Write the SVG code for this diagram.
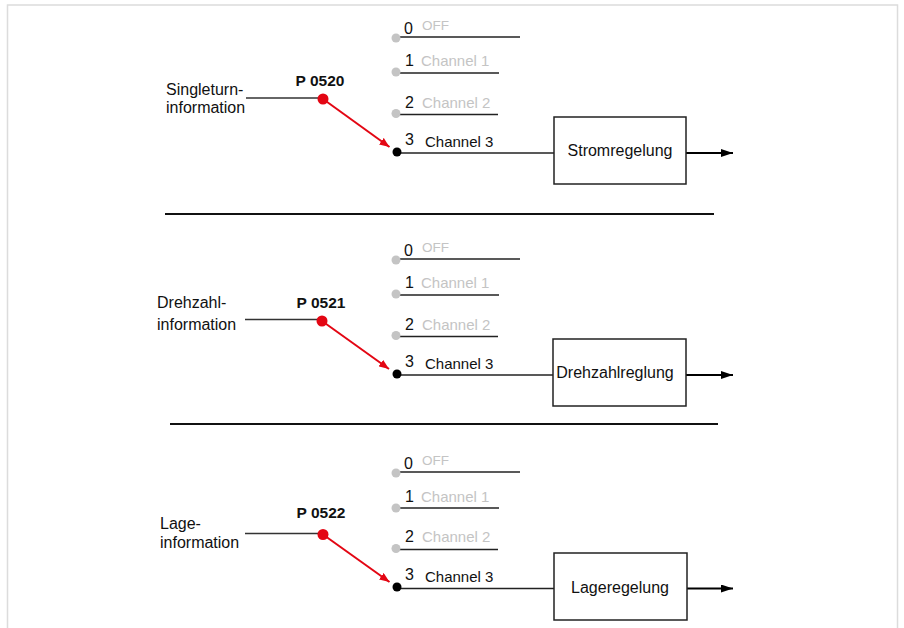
<svg xmlns="http://www.w3.org/2000/svg" width="904" height="628" viewBox="0 0 904 628">
<defs>
<style>
text{font-family:"Liberation Sans",Arial,sans-serif;fill:#111}
.lbl{font-size:16px}
.ch{font-size:15px}
.num{font-size:16px}
.off{font-size:13.5px;fill:#c4c4c4}
.grey{fill:#c4c4c4}
.par{font-size:15.5px;font-weight:bold;text-anchor:middle}
.box{fill:#fff;stroke:#222;stroke-width:1.5}
.bt{font-size:16px;text-anchor:middle}
.opt{stroke:#222;stroke-width:1.5}
.in{stroke:#333;stroke-width:1.5}
.gdot{fill:#c4c4c4}
.bdot{fill:#000}
.rdot{fill:#e30613}
.red{stroke:#e30613;stroke-width:2;fill:none}
.out{stroke:#000;stroke-width:2}
.sep{stroke:#111;stroke-width:2}
</style>
<marker id="ra" viewBox="0 0 10 8" refX="10" refY="4" markerWidth="10" markerHeight="8" markerUnits="userSpaceOnUse" orient="auto"><path d="M0,0 L10,4 L0,8 z" fill="#e30613"/></marker>
<marker id="ba" viewBox="0 0 12 8" refX="12" refY="4" markerWidth="12" markerHeight="8" markerUnits="userSpaceOnUse" orient="auto"><path d="M0,0 L12,4 L0,8 z" fill="#000"/></marker>
</defs>
<rect x="7.5" y="5" width="890" height="640" fill="none" stroke="#dcdcdc" stroke-width="1.5"/>

<g id="connectors">
<line class="in" x1="246" y1="98" x2="320" y2="98"/>
<line class="red" x1="323" y1="99" x2="389.5" y2="147" marker-end="url(#ra)"/>
<line class="opt" x1="397" y1="153" x2="554" y2="153"/>
<line class="out" x1="686" y1="153" x2="733" y2="153" marker-end="url(#ba)"/>

<line class="in" x1="245" y1="319.5" x2="320" y2="319.5"/>
<line class="red" x1="322" y1="321" x2="389" y2="369" marker-end="url(#ra)"/>
<line class="opt" x1="397" y1="375" x2="553" y2="375"/>
<line class="out" x1="686" y1="375" x2="733" y2="375" marker-end="url(#ba)"/>

<line class="in" x1="245" y1="533.5" x2="320" y2="533.5"/>
<line class="red" x1="323" y1="534.5" x2="389.5" y2="582" marker-end="url(#ra)"/>
<line class="opt" x1="397" y1="588.5" x2="554" y2="588.5"/>
<line class="out" x1="687" y1="588.5" x2="733" y2="588.5" marker-end="url(#ba)"/>

<line class="sep" x1="165" y1="214" x2="714" y2="214"/>
<line class="sep" x1="170" y1="424" x2="718" y2="424"/>
</g>

<g id="input1">
<text class="lbl" x="166" y="95">Singleturn-</text>
<text class="lbl" x="166" y="113">information</text>
</g>
<g id="switch1">
<text class="par" x="320" y="86">P 0520</text>
<circle class="rdot" cx="323" cy="99" r="5.5"/>
</g>
<g id="options1">
<line class="opt" x1="397" y1="37" x2="520" y2="37"/>
<circle class="gdot" cx="396" cy="38" r="4.5"/>
<text class="num" x="404" y="33.5">0</text><text class="off" x="422" y="30">OFF</text>
<line class="opt" x1="397" y1="73" x2="499" y2="73"/>
<circle class="gdot" cx="396" cy="72" r="4.5"/>
<text class="num" x="405" y="65.5">1</text><text class="ch grey" x="421" y="65.5">Channel 1</text>
<line class="opt" x1="397" y1="114.5" x2="498" y2="114.5"/>
<circle class="gdot" cx="396" cy="113.5" r="4.5"/>
<text class="num" x="405" y="107.5">2</text><text class="ch grey" x="422" y="107.5">Channel 2</text>
<circle class="bdot" cx="397" cy="152" r="4.5"/>
<text class="num" x="405" y="145">3</text><text class="ch" x="425" y="146.5">Channel 3</text>
</g>
<g id="box1">
<rect class="box" x="554" y="117" width="132" height="67"/>
<text class="bt" x="620" y="155.5">Stromregelung</text>
</g>

<g id="input2">
<text class="lbl" x="157" y="308">Drehzahl-</text>
<text class="lbl" x="157" y="330">information</text>
</g>
<g id="switch2">
<text class="par" x="321" y="308">P 0521</text>
<circle class="rdot" cx="322" cy="321" r="5.5"/>
</g>
<g id="options2">
<line class="opt" x1="397" y1="259" x2="520" y2="259"/>
<circle class="gdot" cx="396" cy="260" r="4.5"/>
<text class="num" x="404" y="255.5">0</text><text class="off" x="422" y="252">OFF</text>
<line class="opt" x1="397" y1="295" x2="499" y2="295"/>
<circle class="gdot" cx="396" cy="294" r="4.5"/>
<text class="num" x="405" y="287.5">1</text><text class="ch grey" x="421" y="287.5">Channel 1</text>
<line class="opt" x1="397" y1="336.5" x2="498" y2="336.5"/>
<circle class="gdot" cx="396" cy="335.5" r="4.5"/>
<text class="num" x="405" y="329.5">2</text><text class="ch grey" x="422" y="329.5">Channel 2</text>
<circle class="bdot" cx="397" cy="374" r="4.5"/>
<text class="num" x="405" y="367">3</text><text class="ch" x="425" y="368.5">Channel 3</text>
</g>
<g id="box2">
<rect class="box" x="553" y="339" width="133" height="67"/>
<text class="bt" x="615" y="378">Drehzahlreglung</text>
</g>

<g id="input3">
<text class="lbl" x="160" y="529">Lage-</text>
<text class="lbl" x="160" y="548">information</text>
</g>
<g id="switch3">
<text class="par" x="321" y="518">P 0522</text>
<circle class="rdot" cx="323" cy="534.5" r="5.5"/>
</g>
<g id="options3">
<line class="opt" x1="397" y1="472" x2="520" y2="472"/>
<circle class="gdot" cx="396" cy="473" r="4.5"/>
<text class="num" x="404" y="468.5">0</text><text class="off" x="422" y="465">OFF</text>
<line class="opt" x1="397" y1="508" x2="499" y2="508"/>
<circle class="gdot" cx="396" cy="508" r="4.5"/>
<text class="num" x="405" y="501.5">1</text><text class="ch grey" x="421" y="501.5">Channel 1</text>
<line class="opt" x1="397" y1="549.5" x2="498" y2="549.5"/>
<circle class="gdot" cx="396" cy="548.5" r="4.5"/>
<text class="num" x="405" y="542">2</text><text class="ch grey" x="422" y="542">Channel 2</text>
<circle class="bdot" cx="397" cy="587" r="4.5"/>
<text class="num" x="405" y="580">3</text><text class="ch" x="425" y="581.5">Channel 3</text>
</g>
<g id="box3">
<rect class="box" x="554" y="553" width="133" height="67"/>
<text class="bt" x="620" y="593">Lageregelung</text>
</g>
</svg>
